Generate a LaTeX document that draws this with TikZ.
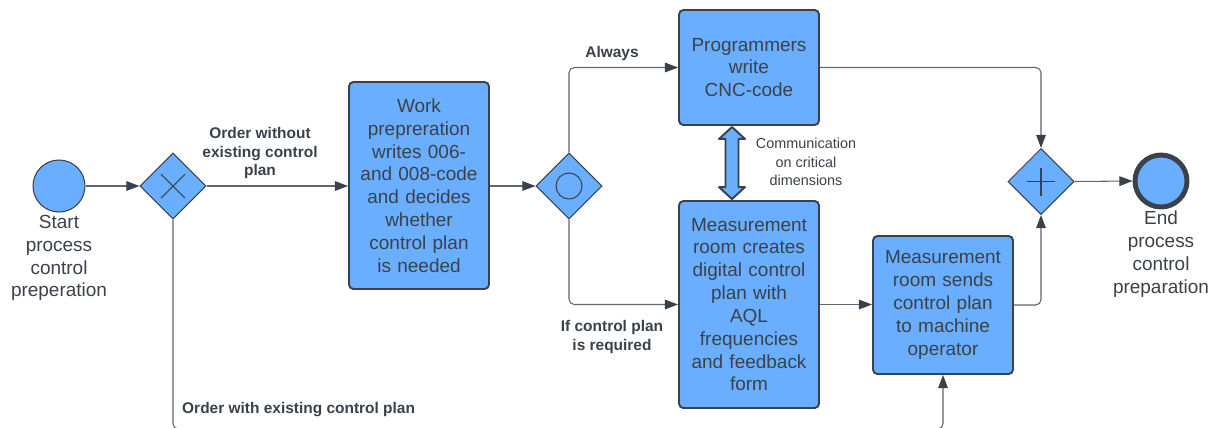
\documentclass[tikz,border=0pt]{standalone}
\usepackage{fontspec}
\setmainfont{Liberation Sans}
\usepackage{tikz}
\usetikzlibrary{arrows.meta,calc,shapes.geometric}
\usepackage{xcolor}
\definecolor{Malibu}{HTML}{6AAFFF}
\definecolor{Shark}{HTML}{3A414A}
\definecolor{Gunmetal}{HTML}{5E6670}

\tikzset{
  task/.style={draw=Shark,line width=1.1pt,fill=Malibu,rounded corners=2.5pt,
    minimum width=2.8cm,text width=2.7cm,inner sep=0pt,align=center,text=Shark,
    font=\fontsize{10.8}{13}\selectfont},
  gate/.style={diamond,draw=Shark,line width=0.6pt,fill=Malibu,
    minimum width=1.32cm,minimum height=1.32cm,inner sep=0pt},
  event/.style={circle,draw=Shark,fill=Malibu,minimum size=1.04cm,inner sep=0pt},
  flow/.style={draw=Gunmetal,line width=0.6pt,rounded corners=3pt,
    -{Triangle[length=7.5pt,width=5.5pt,color=Shark]}},
  cond/.style={text=Shark,align=center,font=\bfseries\fontsize{8.8}{10.5}\selectfont},
  caption/.style={text=Shark,align=center,font=\fontsize{10.8}{13}\selectfont},
  commarrow/.style={draw=Shark,line width=1.1pt,fill=Malibu,line join=round},
}

\begin{document}
\begin{tikzpicture}[x=0.02cm,y=-0.02cm]
    \useasboundingbox (0,0) rectangle (1216,427);

    \node[event,line width=0.6pt] (startev) at (59,186) {};
    \node[caption] (startcap) at (59,258) {Start\\process\\control\\preperation};

    \node[gate] (g1) at (173,186) {};
    \draw[Shark,line width=0.6pt] (g1.center) ++(-12,-12) -- ++(24,24) ++(0,-24) -- ++(-24,24);

    \node[task,minimum height=4.14cm] (work) at (419,185.5)
        {Work\\prepreration\\writes 006-\\and 008-code\\and decides\\whether\\control plan\\is needed};

    \node[gate] (g2) at (569,186) {};
    \draw[Shark,line width=0.6pt] (g2.center) circle[radius=0.26cm];

    \node[task,minimum height=2.3cm] (prog) at (749,67.5) {Programmers\\write\\CNC-code};
    \node[task,minimum height=4.14cm] (meas) at (749,304.5)
        {Measurement\\room creates\\digital control\\plan with\\AQL\\frequencies\\and feedback\\form};
    \node[task,minimum height=2.76cm] (send) at (943,305)
        {Measurement\\room sends\\control plan\\to machine\\operator};

    \node[gate] (g3) at (1041,181.5) {};
    \draw[Shark,line width=0.6pt] (g3.center) ++(0,-14) -- ++(0,28) ++(-14,-14) -- ++(28,0);

    \node[event,line width=2.8pt] (stopev) at (1161,181) {};
    \node[caption] (stopcap) at (1161,254) {End\\process\\control\\preparation};

    % fat two-headed arrow between the programmers and the measurement room
    \path (prog.south) ++(-17,1) coordinate (commtop);
    \path (meas.north) ++(-17,-1) coordinate (commbot);
    \draw[commarrow] (commtop) -- ++(13,12) -- ++(-6.5,0) -- ($(commbot)+(6.5,-12)$)
        -- ++(6.5,0) -- (commbot) -- ++(-13,-12) -- ++(6.5,0)
        -- ($(commtop)+(-6.5,12)$) -- ++(-6.5,0) -- cycle;

    \coordinate (low) at (173,429);

    \draw[flow] (startev) -- (g1);
    \draw[flow] (g1.east) -- (g1.east -| work.west);
    \draw[flow] (work.east |- g2.west) -- (g2.west);
    \draw[flow] (g2.north) |- (prog.west);
    \draw[flow] (g2.south) |- (meas.west);
    \draw[flow] (meas.east) -- (meas.east -| send.west);
    \draw[flow] (prog.east) -| (g3.north);
    \draw[flow] (send.east) -| (g3.south);
    \draw[flow] (g3.east) -- (stopev.west);
    \draw[flow] (g1.south) -- (low) -| (send.south);

    \node[cond] (lblwithout) at (260,153) {Order without\\existing control\\plan};
    \node[cond] (lblalways) at (612,53) {Always};
    \node[cond] (lblreq) at (612,337) {If control plan\\is required};
    \node[cond,anchor=west] (lblwith) at (176,410) {Order with existing control plan};
    \node[caption,font=\fontsize{8.2}{10.5}\selectfont] (lblcomm) at (806,162)
        {Communication\\on critical\\dimensions};
\end{tikzpicture}
\end{document}
